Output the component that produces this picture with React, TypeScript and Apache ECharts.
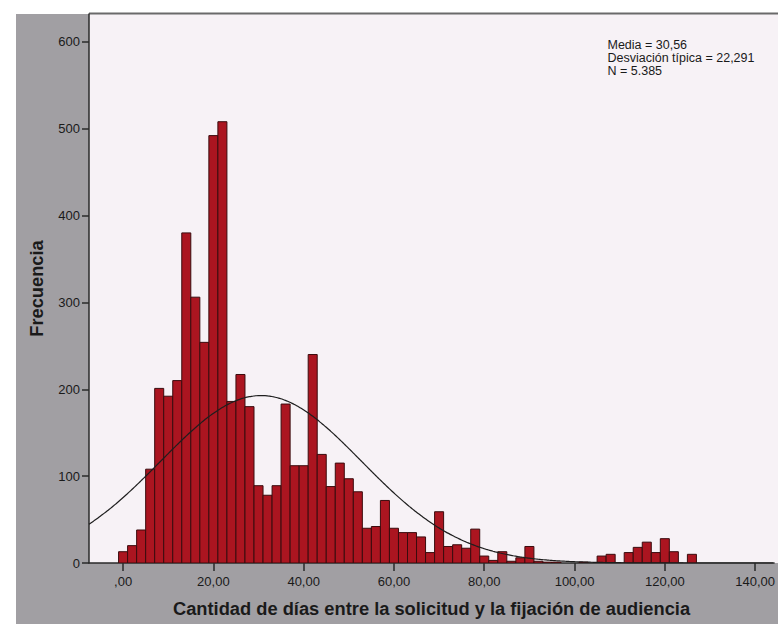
import React, { useEffect, useRef } from "react";
import * as echarts from "echarts";

// Histogram bins: centres (days) and frequencies, bin width 2
const BIN_WIDTH = 2;
const binCenters = [
  0, 2, 4, 6, 8, 10, 12, 14, 16, 18,
  20, 22, 24, 26, 28, 30, 32, 34, 36, 38,
  40, 42, 44, 46, 48, 50, 52, 54, 56, 58,
  60, 62, 64, 66, 68, 70, 72, 74, 76, 78,
  80, 82, 84, 86, 88, 90, 92, 94, 96, 98,
  100, 102, 104, 106, 108, 110, 112, 114, 116, 118,
  120, 122, 124, 126,
];
const frequencies = [
  13, 20, 38, 108, 201, 192, 210, 380, 306, 254,
  492, 508, 186, 217, 180, 89, 78, 89, 183, 112,
  112, 240, 125, 88, 115, 97, 82, 40, 42, 72,
  40, 35, 35, 30, 12, 59, 19, 21, 17, 39,
  8, 3, 13, 2, 6, 19, 2, 1, 1, 0,
  0, 1, 0, 8, 10, 0, 12, 18, 24, 12,
  28, 13, 0, 10,
];

// Summary statistics shown in the chart (used for the fitted normal curve)
const MEAN = 30.56;
const STD_DEV = 22.291;
const N = 5385;
const statsLines = ["Media = 30,56", "Desviación típica = 22,291", "N = 5.385"];

// Axis ticks and labels
const xTickValues = [0, 20, 40, 60, 80, 100, 120, 140];
const xTickLabels = [",00", "20,00", "40,00", "60,00", "80,00", "100,00", "120,00", "140,00"];
const yTickValues = [0, 100, 200, 300, 400, 500, 600];
const yTickLabels = ["0", "100", "200", "300", "400", "500", "600"];

const X_NAME = "Cantidad de días entre la solicitud y la fijación de audiencia";
const Y_NAME = "Frecuencia";

const X_MIN = -7.55;
const X_MAX = 144.2;
const Y_MAX = 632;

const FONT = "'Liberation Sans', Arial, Helvetica, sans-serif";

function normalCurve(): number[][] {
  const pts: number[][] = [];
  const k = (N * BIN_WIDTH) / (STD_DEV * Math.sqrt(2 * Math.PI));
  for (let x = X_MIN; x <= X_MAX + 0.001; x += 0.5) {
    const z = (x - MEAN) / STD_DEV;
    pts.push([x, k * Math.exp(-0.5 * z * z)]);
  }
  return pts;
}

export default function App() {
  const ref = useRef<HTMLDivElement>(null);

  useEffect(() => {
    if (!ref.current) return;
    const chart = echarts.init(ref.current, undefined, { renderer: "svg" });
    const barData = binCenters.map((c, i) => [c, frequencies[i]]);

    chart.setOption({
      animation: false,
      backgroundColor: "#ffffff",
      textStyle: { fontFamily: FONT },
      graphic: [
        {
          type: "rect",
          z: -20,
          shape: { x: 16, y: 14, width: 762, height: 610 },
          style: { fill: "#a19fa3" },
          silent: true,
        },
        {
          type: "rect",
          z: -19,
          shape: { x: 89, y: 14, width: 689, height: 549 },
          style: { fill: "#f7f2f6" },
          silent: true,
        },
        {
          type: "line",
          z: -18,
          shape: { x1: 89, y1: 13.5, x2: 778, y2: 13.5 },
          style: { stroke: "#6a6a6a", lineWidth: 2 },
          silent: true,
        },
        {
          type: "text",
          z: 10,
          x: 607.5,
          y: 38.5,
          style: {
            text: statsLines.join("\n"),
            font: `12.5px ${FONT}`,
            lineHeight: 13,
            fill: "#1a1a1a",
          },
          silent: true,
        },
      ],
      grid: {
        left: 89,
        top: 14,
        width: 689,
        height: 549,
        show: false,
      },
      xAxis: {
        type: "value",
        min: X_MIN,
        max: X_MAX,
        name: X_NAME,
        nameLocation: "middle",
        nameGap: 36,
        nameTextStyle: { fontSize: 18.3, fontWeight: "bold", color: "#1a1a1a", fontFamily: FONT },
        splitLine: { show: false },
        axisLine: { show: true, onZero: false, lineStyle: { color: "#2a2a2a", width: 1.5 } },
        axisTick: {
          show: true,
          length: 8,
          customValues: xTickValues,
          lineStyle: { color: "#2a2a2a", width: 1.5 },
        },
        axisLabel: {
          customValues: xTickValues,
          fontSize: 13,
          color: "#1a1a1a",
          margin: 12,
          fontFamily: FONT,
          formatter: (v: number) => {
            const i = xTickValues.indexOf(Math.round(v));
            return i >= 0 ? xTickLabels[i] : "";
          },
        },
      },
      yAxis: {
        type: "value",
        min: 0,
        max: Y_MAX,
        name: Y_NAME,
        nameLocation: "middle",
        nameGap: 44,
        nameRotate: 90,
        nameTextStyle: { fontSize: 18.3, fontWeight: "bold", color: "#1a1a1a", fontFamily: FONT },
        splitLine: { show: false },
        axisLine: { show: true, onZero: false, lineStyle: { color: "#2a2a2a", width: 1.5 } },
        axisTick: {
          show: true,
          length: 7,
          customValues: yTickValues,
          lineStyle: { color: "#2a2a2a", width: 1.5 },
        },
        axisLabel: {
          customValues: yTickValues,
          fontSize: 13,
          color: "#1a1a1a",
          margin: 9,
          fontFamily: FONT,
          formatter: (v: number) => {
            const i = yTickValues.indexOf(Math.round(v));
            return i >= 0 ? yTickLabels[i] : "";
          },
        },
      },
      series: [
        {
          type: "custom",
          data: barData,
          encode: { x: 0, y: 1 },
          clip: true,
          renderItem: (params: any, api: any) => {
            const c = api.value(0);
            const v = api.value(1);
            if (!v) return null;
            const p0 = api.coord([c - BIN_WIDTH / 2, v]);
            const p1 = api.coord([c + BIN_WIDTH / 2, 0]);
            return {
              type: "rect",
              shape: { x: p0[0], y: p0[1], width: p1[0] - p0[0], height: p1[1] - p0[1] },
              style: { fill: "#ab1520", stroke: "#3a0c0e", lineWidth: 1 },
            };
          },
        },
        {
          type: "line",
          data: normalCurve(),
          showSymbol: false,
          smooth: true,
          clip: true,
          z: 5,
          lineStyle: { color: "#1e1e1e", width: 1.2 },
        },
      ],
    });

    return () => chart.dispose();
  }, []);

  return (
    <div
      ref={ref}
      style={{ position: "fixed", left: 0, top: 0, width: 778, height: 624 }}
    />
  );
}
